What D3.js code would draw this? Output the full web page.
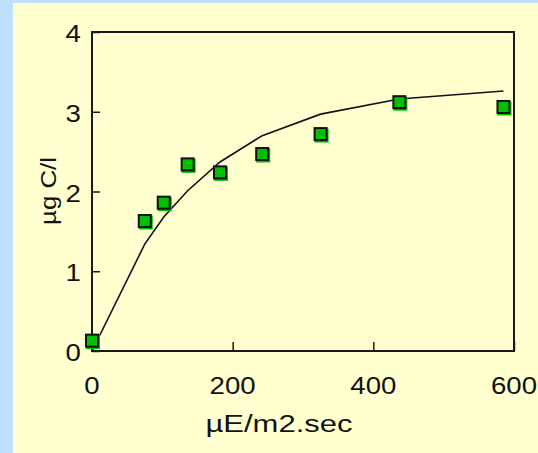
<!DOCTYPE html>
<html>
<head>
<meta charset="utf-8">
<script src="https://cdn.jsdelivr.net/npm/d3@7"></script>
<style>
  html, body { margin: 0; padding: 0; background: #bfdfff; }
  svg { display: block; }
  text { font-family: Arial, "Liberation Sans", sans-serif; fill: #111; }
</style>
</head>
<body>
<svg id="chart" width="538" height="453"></svg>
<script>
// Irradiance (µE/m2.sec) and measured carbon uptake (µg C/l)
const irradiance = [0, 75, 102, 136, 182, 242, 325, 437, 585];
const carbon     = [0.13, 1.63, 1.86, 2.34, 2.24, 2.47, 2.72, 3.12, 3.06];
// Fitted P–I curve, evaluated at the same irradiance levels
const fitCarbon  = [0, 1.34, 1.68, 2.01, 2.37, 2.70, 2.97, 3.16, 3.26];
const xTicks = [0, 200, 400, 600];
const yTicks = [0, 1, 2, 3, 4];
const xTitle = "µE/m2.sec";
const yTitle = "µg C/l";

const svg = d3.select("#chart");

// pale yellow panel
svg.append("rect")
  .attr("x", 13).attr("y", 3)
  .attr("width", 538 - 13).attr("height", 453 - 3)
  .attr("fill", "#ffffd0");

const plotL = 92, plotR = 514, plotT = 32, plotB = 351;
const x = d3.scaleLinear().domain([0, 600]).range([plotL, plotR]);
const y = d3.scaleLinear().domain([0, 4]).range([plotB, plotT]);

// frame
svg.append("rect")
  .attr("x", plotL).attr("y", plotT)
  .attr("width", plotR - plotL).attr("height", plotB - plotT)
  .attr("fill", "none").attr("stroke", "#1a1a1a").attr("stroke-width", 2);

// y axis: inward ticks
const yAxis = svg.append("g")
  .attr("transform", `translate(${plotL},0)`)
  .call(d3.axisRight(y).tickValues(yTicks).tickSize(8).tickFormat(""));
yAxis.select(".domain").remove();
yAxis.selectAll("line").attr("stroke", "#1a1a1a").attr("stroke-width", 1.5);

// x axis: inward ticks
const xAxis = svg.append("g")
  .attr("transform", `translate(0,${plotB})`)
  .call(d3.axisTop(x).tickValues(xTicks).tickSize(9).tickFormat(""));
xAxis.select(".domain").remove();
xAxis.selectAll("line").attr("stroke", "#1a1a1a").attr("stroke-width", 1.5);

// tick labels, slightly widened
function stretch(sel, k) {
  sel.each(function () {
    const w = this.getComputedTextLength();
    d3.select(this).attr("textLength", w * k).attr("lengthAdjust", "spacingAndGlyphs");
  });
}
svg.append("g").selectAll("text")
  .data(yTicks).join("text")
  .attr("x", 81).attr("y", d => y(d) + 10)
  .attr("text-anchor", "end")
  .attr("font-size", 24)
  .text(d => d)
  .call(stretch, 1.15);

svg.append("g").selectAll("text")
  .data(xTicks).join("text")
  .attr("x", d => x(d)).attr("y", 394)
  .attr("text-anchor", "middle")
  .attr("font-size", 24)
  .text(d => d)
  .call(stretch, 1.15);

// axis titles
svg.append("text")
  .attr("x", 279).attr("y", 432)
  .attr("text-anchor", "middle")
  .attr("font-size", 23)
  .attr("textLength", 147).attr("lengthAdjust", "spacingAndGlyphs")
  .text(xTitle);

svg.append("text")
  .attr("transform", "translate(56,191) rotate(-90)")
  .attr("text-anchor", "middle")
  .attr("font-size", 22)
  .attr("textLength", 68).attr("lengthAdjust", "spacingAndGlyphs")
  .text(yTitle);

// fitted curve
const line = d3.line().x((d, i) => x(irradiance[i])).y(d => y(d));
svg.append("path")
  .datum(fitCarbon)
  .attr("d", line)
  .attr("fill", "none")
  .attr("stroke", "#111")
  .attr("stroke-width", 1.6);

// measured points: square markers with a green offset edge
const s = 14;
const pts = svg.append("g");
pts.selectAll("rect.shadow")
  .data(carbon).join("rect")
  .attr("class", "shadow")
  .attr("x", (d, i) => x(irradiance[i]) - s / 2 + 1)
  .attr("y", d => y(d) - s / 2 + 1.5)
  .attr("width", s).attr("height", s)
  .attr("fill", "#00c000");
pts.selectAll("rect.mark")
  .data(carbon).join("rect")
  .attr("class", "mark")
  .attr("x", (d, i) => x(irradiance[i]) - s / 2 + 1)
  .attr("y", d => y(d) - s / 2 + 1)
  .attr("width", s - 2).attr("height", s - 2)
  .attr("fill", "#00c000")
  .attr("stroke", "#111")
  .attr("stroke-width", 2);
</script>
</body>
</html>
